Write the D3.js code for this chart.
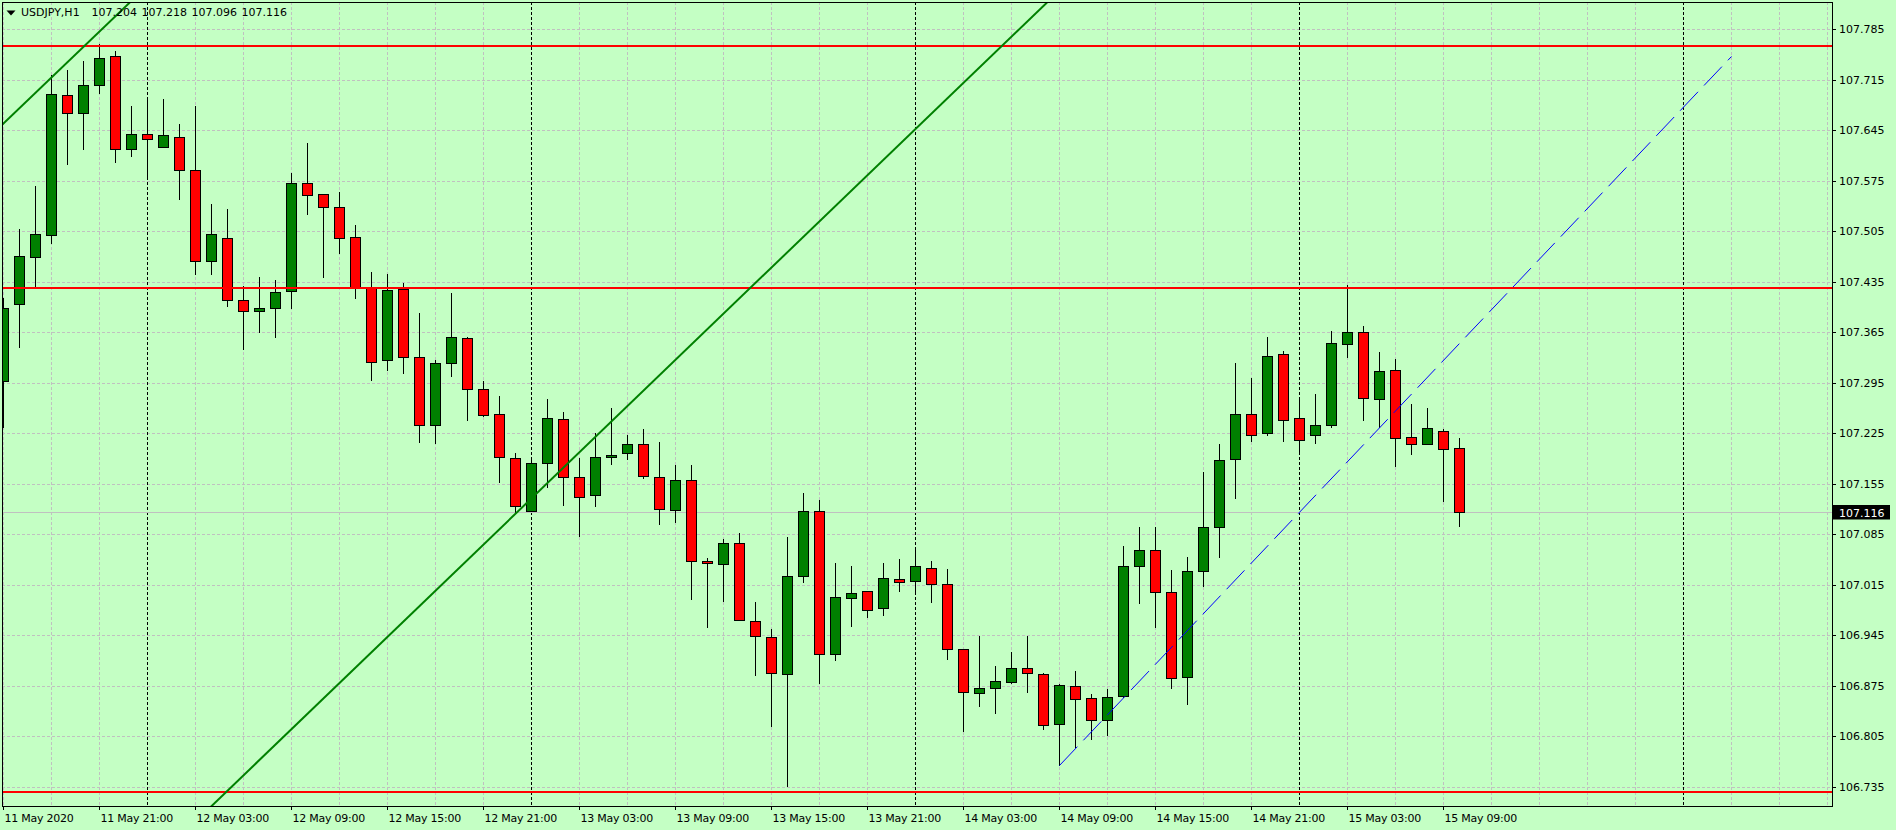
<!DOCTYPE html>
<html><head><meta charset="utf-8">
<script src="https://cdn.jsdelivr.net/npm/d3@7"></script>
<style>
html,body{margin:0;padding:0;background:#c4ffc4;overflow:hidden}
svg text{font-family:"DejaVu Sans",sans-serif;font-size:11px;fill:#000}
</style></head><body>
<svg id="chart" width="1896" height="830"></svg>
<script>
// ---------------- data ----------------
const symbol = "USDJPY,H1";
const firstBarTime = "2020-05-11 15:00";
const opens = [107.298,107.404,107.469,107.500,107.694,107.669,107.707,107.747,107.619,107.640,
 107.621,107.636,107.589,107.464,107.496,107.410,107.395,107.399,107.422,107.571,
 107.557,107.539,107.497,107.428,107.327,107.425,107.331,107.237,107.323,107.357,
 107.287,107.251,107.191,107.118,107.184,107.245,107.165,107.140,107.192,107.197,
 107.210,107.165,107.119,107.160,107.048,107.044,107.073,106.965,106.943,106.892,
 107.027,107.118,106.919,106.997,107.007,106.983,107.023,107.021,107.039,107.016,
 106.926,106.865,106.872,106.881,106.900,106.892,106.822,106.875,106.858,106.828,
 106.861,107.041,107.063,107.005,106.888,107.034,107.095,107.190,107.252,107.226,
 107.335,107.246,107.222,107.237,107.349,107.365,107.273,107.312,107.220,107.210,
 107.228,107.204];
const highs = [107.412,107.508,107.568,107.721,107.728,107.740,107.764,107.755,107.679,107.690,
 107.688,107.653,107.679,107.543,107.535,107.429,107.442,107.438,107.586,107.627,
 107.557,107.559,107.514,107.449,107.446,107.433,107.391,107.327,107.419,107.359,
 107.297,107.276,107.197,107.191,107.272,107.255,107.191,107.226,107.260,107.222,
 107.231,107.213,107.181,107.181,107.052,107.079,107.087,106.991,106.954,107.081,
 107.142,107.133,107.045,107.041,107.007,107.045,107.051,107.066,107.048,107.037,
 106.926,106.944,106.903,106.922,106.944,106.893,106.878,106.896,106.864,106.871,
 107.069,107.095,107.095,107.035,107.053,107.172,107.210,107.323,107.302,107.359,
 107.339,107.274,107.280,107.367,107.430,107.373,107.337,107.328,107.266,107.260,
 107.231,107.218];
const lows = [107.233,107.344,107.426,107.488,107.598,107.619,107.696,107.601,107.609,107.578,
 107.621,107.549,107.445,107.445,107.401,107.342,107.365,107.358,107.398,107.529,
 107.442,107.475,107.413,107.299,107.313,107.309,107.213,107.211,107.304,107.243,
 107.249,107.157,107.115,107.117,107.150,107.125,107.082,107.124,107.183,107.190,
 107.163,107.099,107.102,106.995,106.956,106.992,106.966,106.890,106.819,106.736,
 107.019,106.879,106.911,106.958,106.971,106.973,107.007,107.004,106.991,106.913,
 106.813,106.847,106.837,106.879,106.867,106.815,106.765,106.790,106.801,106.807,
 106.860,106.990,106.957,106.872,106.850,107.013,107.054,107.135,107.214,107.222,
 107.214,107.196,107.211,107.233,107.331,107.243,107.233,107.179,107.196,107.210,
 107.131,107.096];
const closes = [107.399,107.470,107.501,107.695,107.669,107.708,107.745,107.619,107.640,107.632,
 107.638,107.590,107.464,107.501,107.409,107.395,107.398,107.421,107.572,107.555,
 107.539,107.496,107.428,107.324,107.424,107.331,107.237,107.323,107.359,107.287,
 107.250,107.192,107.124,107.184,107.246,107.165,107.137,107.192,107.195,107.210,
 107.166,107.120,107.160,107.048,107.045,107.073,106.966,106.944,106.893,107.027,
 107.118,106.919,106.998,107.004,106.980,107.025,107.019,107.041,107.016,106.926,
 106.867,106.872,106.882,106.900,106.893,106.821,106.876,106.857,106.828,106.860,
 107.041,107.063,107.005,106.886,107.034,107.095,107.188,107.252,107.222,107.332,
 107.244,107.215,107.237,107.350,107.365,107.274,107.311,107.219,107.210,107.232,
 107.203,107.116];

const levels = [107.762, 107.426, 106.728];                 // red horizontal lines
const greenLineA = [["2020-05-12 03:00", 106.687], ["2020-05-14 09:00", 107.837]];
const greenLineB = [["2020-05-11 15:00", 107.653], ["2020-05-12 03:00", 107.908]];
const blueLine   = [["2020-05-14 09:00", 106.765], ["2020-05-16 03:00", 107.747]];
const priceTicks = [107.785,107.715,107.645,107.575,107.505,107.435,107.365,107.295,
                    107.225,107.155,107.085,107.015,106.945,106.875,106.805,106.735];
const timeTicks = ["2020-05-11 15:00","2020-05-11 21:00","2020-05-12 03:00","2020-05-12 09:00",
 "2020-05-12 15:00","2020-05-12 21:00","2020-05-13 03:00","2020-05-13 09:00","2020-05-13 15:00",
 "2020-05-13 21:00","2020-05-14 03:00","2020-05-14 09:00","2020-05-14 15:00","2020-05-14 21:00",
 "2020-05-15 03:00","2020-05-15 09:00"];
const timeTickLabels = ["11 May 2020","11 May 21:00","12 May 03:00","12 May 09:00","12 May 15:00",
 "12 May 21:00","13 May 03:00","13 May 09:00","13 May 15:00","13 May 21:00","14 May 03:00",
 "14 May 09:00","14 May 15:00","14 May 21:00","15 May 03:00","15 May 09:00"];
const separators = ["2020-05-12 00:00","2020-05-13 00:00","2020-05-14 00:00","2020-05-15 00:00","2020-05-16 00:00"];

// ---------------- layout ----------------
const parse = d3.utcParse("%Y-%m-%d %H:%M");
const plot = {left: 2, top: 2, right: 1832, bottom: 806};
const t0 = parse(firstBarTime);
const barPx = 16, visibleBars = 114;
const x = d3.scaleUtc().domain([t0, d3.utcHour.offset(t0, visibleBars)])
            .rangeRound([3, 3 + barPx * visibleBars]);
const y = d3.scaleLinear().domain([106.735, 107.785]).rangeRound([787, 29]);

const bars = opens.map((o, i) => ({t: d3.utcHour.offset(t0, i), o, h: highs[i], l: lows[i], c: closes[i]}));
const last = bars[bars.length - 1];

const svg = d3.select("#chart");
svg.append("rect").attr("width", 1896).attr("height", 830).attr("fill", "#c4ffc4");

svg.append("defs").append("clipPath").attr("id", "clip").append("rect")
  .attr("x", plot.left + 0.5).attr("y", plot.top + 0.5)
  .attr("width", plot.right - plot.left).attr("height", plot.bottom - plot.top);

const g = svg.append("g").attr("clip-path", "url(#clip)");

// grid: horizontal
g.selectAll(".hg").data(priceTicks).join("line")
  .attr("x1", plot.left).attr("x2", plot.right)
  .attr("y1", d => y(d) + 0.5).attr("y2", d => y(d) + 0.5)
  .attr("stroke", "#c0c0c0").attr("stroke-dasharray", "3,2");
// grid: vertical every 3 bars (excluding day separators)
const sepSet = new Set(separators.map(s => +parse(s)));
const vgrid = d3.range(0, visibleBars + 1, 3).map(k => d3.utcHour.offset(t0, k)).filter(d => !sepSet.has(+d));
g.selectAll(".vg").data(vgrid).join("line")
  .attr("x1", d => x(d) + 0.5).attr("x2", d => x(d) + 0.5)
  .attr("y1", plot.top).attr("y2", plot.bottom)
  .attr("stroke", "#c0c0c0").attr("stroke-dasharray", "3,2");
// period separators
g.selectAll(".sep").data(separators.map(parse)).join("line")
  .attr("x1", d => x(d) + 0.5).attr("x2", d => x(d) + 0.5)
  .attr("y1", plot.top).attr("y2", plot.bottom)
  .attr("stroke", "#000").attr("stroke-dasharray", "3,2");

// bid line
g.append("line").attr("x1", plot.left).attr("x2", plot.right)
  .attr("y1", y(last.c) + 0.5).attr("y2", y(last.c) + 0.5)
  .attr("stroke", "#c0c0c0");

// candles
const cg = g.append("g");
cg.selectAll(".wick").data(bars).join("line")
  .attr("x1", d => x(d.t) + 0.5).attr("x2", d => x(d.t) + 0.5)
  .attr("y1", d => y(d.h)).attr("y2", d => y(d.l) + 1)
  .attr("stroke", "#000");
cg.selectAll(".body").data(bars).join("rect")
  .attr("x", d => x(d.t) - 4.5).attr("width", 10)
  .attr("y", d => y(Math.max(d.o, d.c)) + 0.5)
  .attr("height", d => Math.max(y(Math.min(d.o, d.c)) - y(Math.max(d.o, d.c)), 1))
  .attr("fill", d => d.c >= d.o ? "#008000" : "#ff0000")
  .attr("stroke", "#000");

// red levels
g.selectAll(".lvl").data(levels).join("line")
  .attr("x1", plot.left).attr("x2", plot.right)
  .attr("y1", d => y(d)).attr("y2", d => y(d))
  .attr("stroke", "#ff0000").attr("stroke-width", 2);

// trend lines extended across the plot
function extended(pts) {
  const [p1, p2] = pts.map(([t, v]) => [x(parse(t)), y(v)]);
  const m = (p2[1] - p1[1]) / (p2[0] - p1[0]);
  const xa = plot.left - 10, xb = plot.right + 10;
  return [[xa, p1[1] + m * (xa - p1[0])], [xb, p1[1] + m * (xb - p1[0])]];
}
[greenLineA, greenLineB].forEach(L => {
  g.append("path").attr("d", d3.line()(extended(L)))
    .attr("fill", "none").attr("stroke", "#008000").attr("stroke-width", 2);
});
g.append("path")
  .attr("d", d3.line()(blueLine.map(([t, v]) => [x(parse(t)) + 0.5, y(v) + 0.5])))
  .attr("fill", "none").attr("stroke", "#0000ff").attr("stroke-width", 1)
  .attr("stroke-dasharray", "26,8.7");

// frame
svg.append("rect").attr("x", plot.left + 0.5).attr("y", plot.top + 0.5)
  .attr("width", plot.right - plot.left).attr("height", plot.bottom - plot.top)
  .attr("fill", "none").attr("stroke", "#000");

// price axis
const ya = svg.append("g").attr("transform", `translate(${plot.right},0)`)
  .call(d3.axisRight(y).tickValues(priceTicks).tickFormat(d3.format(".3f")).tickSize(4).tickPadding(3));
ya.select(".domain").remove();
ya.selectAll("text").style("font-family", "DejaVu Sans").style("font-size", "11px").attr("fill", "#000");
ya.selectAll("line").attr("stroke", "#000");

// time axis
const xa = svg.append("g").attr("transform", `translate(0,${plot.bottom})`)
  .call(d3.axisBottom(x).tickValues(timeTicks.map(parse)).tickFormat((d, i) => timeTickLabels[i]).tickSize(4));
xa.select(".domain").remove();
xa.selectAll("line").attr("stroke", "#000");
xa.selectAll("text").attr("text-anchor", "start").attr("x", 1).attr("y", 15.5).attr("dy", null)
  .style("font-family", "DejaVu Sans").style("font-size", "11px").style("letter-spacing", "-0.25px").attr("fill", "#000");

// current price label
const cpY = y(last.c) + 0.5;
svg.append("rect").attr("x", plot.right + 1).attr("y", cpY - 7.5).attr("width", 57).attr("height", 14.5).attr("fill", "#000");
svg.append("text").attr("x", plot.right + 7).attr("y", cpY + 4).style("fill", "#fff")
  .text(d3.format(".3f")(last.c));

// title
svg.append("path").attr("d", "M6.5,10.5 L15.5,10.5 L11,15.5 Z").attr("fill", "#000");
const title = svg.append("text").attr("y", 16);
title.append("tspan").attr("x", 21).text(symbol);
[last.o, last.h, last.l, last.c].forEach((v, i) => {
  title.append("tspan").attr("x", 91.5 + 50 * i).text(d3.format(".3f")(v));
});
</script>
</body></html>
